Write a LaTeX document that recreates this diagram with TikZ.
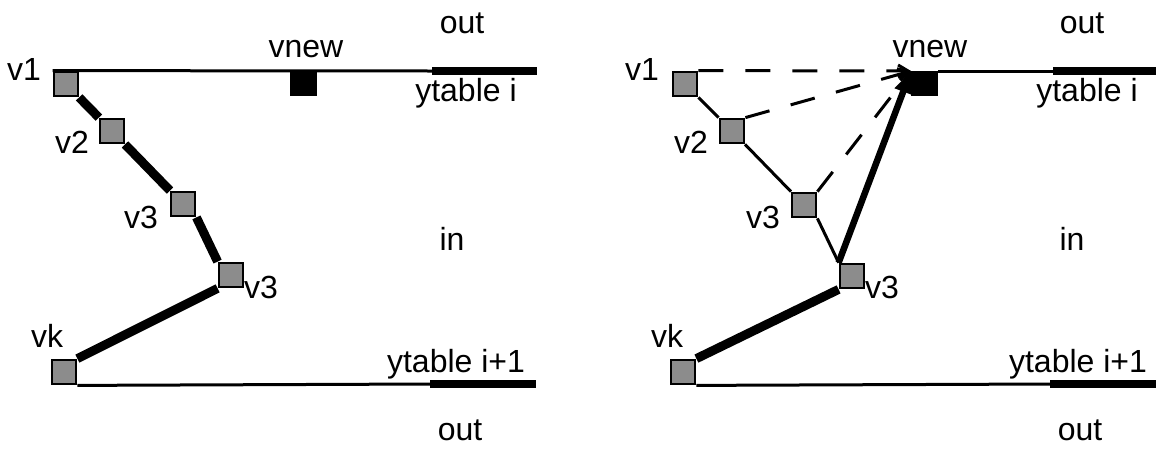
\documentclass[tikz,border=0pt]{standalone}
\usepackage{fontspec}
\setmainfont{Liberation Sans}
\usetikzlibrary{arrows.meta,backgrounds}
\begin{document}
\begin{tikzpicture}[x=1pt,y=-1pt,
  lbl/.style={font=\fontsize{32}{38}\selectfont, inner sep=0pt, anchor=base},
  vsq/.style={rectangle, draw=black, line width=2.8pt, fill=black!45, minimum size=24pt, inner sep=0pt},
  nsq/.style={rectangle, fill=black, minimum width=27pt, minimum height=25pt, inner sep=0pt, anchor=north west},
  fine/.style={line width=3pt},
  heavy/.style={line width=9pt},
  bar/.style={line width=8pt},
  dsh/.style={line width=3pt, dash pattern=on 25pt off 22pt, -{Straight Barb[length=10pt,width=12pt]}},
  bigarrow/.style={line width=6.5pt, -{Triangle[length=22pt,width=17pt]}},
]
\useasboundingbox (0,0) rectangle (1157,448);

% ---------------- left panel ----------------
\node[vsq] (aV1) at (66,84) {};
\node[vsq] (aV2) at (112,131) {};
\node[vsq] (aV3) at (183,204) {};
\node[vsq] (aV4) at (231,275) {};
\node[vsq] (aVk) at (64,372) {};
\node[nsq] (aNew) at (290,71) {};
\coordinate (aTopBar) at (432,71);
\coordinate (aTopEnd) at (537,71);
\coordinate (aBotBar) at (430,384);
\coordinate (aBotEnd) at (536,384);

\begin{scope}[on background layer]
\draw[fine] (aV1.north west) -- (aTopBar);
\draw[bar] (aTopBar) -- (aTopEnd);
\draw[heavy] (aV1) -- (aV2);
\draw[heavy] (aV2) -- (aV3);
\draw[heavy] (aV3.south east) -- (aV4.north west);
\draw[heavy] (aV4.south west) -- (aVk.north east);
\draw[fine] (aVk.south east) -- (aBotBar);
\draw[bar] (aBotBar) -- (aBotEnd);
\end{scope}

\node[lbl] (aOutT) at (462,33) {out};
\node[lbl] (aNewL) at (306,57) {vnew};
\node[lbl] (aYt) at (466,101) {ytable i};
\node[lbl] (aIn) at (452,250) {in};
\node[lbl] (aYt2) at (456,372) {ytable i+1};
\node[lbl] (aOutB) at (460,440) {out};
\node[lbl] (aL1) at (24,80) {v1};
\node[lbl] (aL2) at (72,153) {v2};
\node[lbl] (aL3) at (141,228) {v3};
\node[lbl] (aL4) at (261,298) {v3};
\node[lbl] (aLk) at (47,347) {vk};

% ---------------- right panel ----------------
\node[vsq] (bV1) at (685,84) {};
\node[vsq] (bV2) at (732,131) {};
\node[vsq] (bV3) at (804,205) {};
\node[vsq] (bV4) at (852,276) {};
\node[vsq] (bVk) at (683,372) {};
\node[nsq] (bNew) at (911,71) {};
\coordinate (bTopBar) at (1053,71);
\coordinate (bTopEnd) at (1156,71);
\coordinate (bBotBar) at (1050,384);
\coordinate (bBotEnd) at (1156,384);

\begin{scope}[on background layer]
\draw[fine] (bNew.north east) -- (bTopBar);
\draw[bar] (bTopBar) -- (bTopEnd);
\draw[fine] (bV1) -- (bV2);
\draw[fine] (bV2) -- (bV3);
\draw[fine] (bV3.south east) -- (bV4.north west);
\draw[heavy] (bV4.south west) -- (bVk.north east);
\draw[fine] (bVk.south east) -- (bBotBar);
\draw[bar] (bBotBar) -- (bBotEnd);
\end{scope}
\draw[dsh] (bV1.north east) -- (bNew.north west);
\draw[dsh] (bV2.north east) -- (bNew.north west);
\draw[dsh] (bV3.north east) -- (bNew.north west);
\draw[bigarrow] (bV4.north west) -- (bNew.north west);

\node[lbl] (bOutT) at (1082,33) {out};
\node[lbl] (bNewL) at (930,57) {vnew};
\node[lbl] (bYt) at (1087,101) {ytable i};
\node[lbl] (bIn) at (1072,250) {in};
\node[lbl] (bYt2) at (1078,372) {ytable i+1};
\node[lbl] (bOutB) at (1080,440) {out};
\node[lbl] (bL1) at (642,80) {v1};
\node[lbl] (bL2) at (691,153) {v2};
\node[lbl] (bL3) at (763,228) {v3};
\node[lbl] (bL4) at (882,298) {v3};
\node[lbl] (bLk) at (667,347) {vk};
\end{tikzpicture}
\end{document}
